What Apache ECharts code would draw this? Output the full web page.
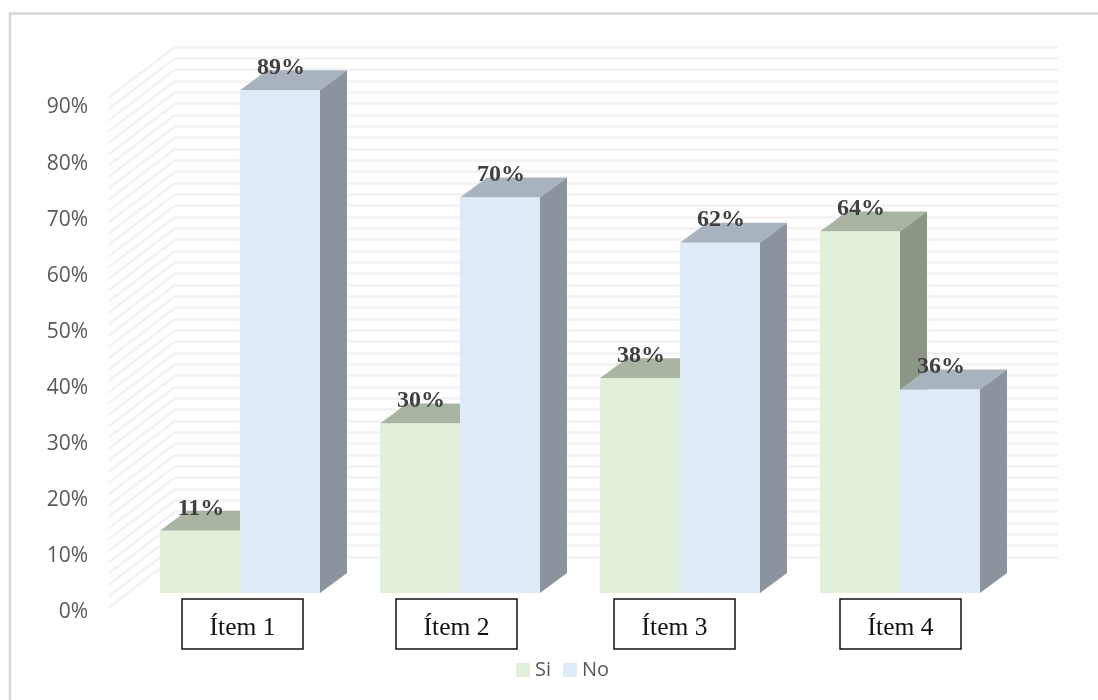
<!DOCTYPE html>
<html>
<head>
<meta charset="utf-8">
<style>
html,body{margin:0;padding:0;background:#fff;}
#main{width:1098px;height:700px;filter:blur(0.45px);}
</style>
<script src="https://cdn.jsdelivr.net/npm/echarts@6/dist/echarts.min.js"></script>
</head>
<body>
<div id="main"></div>
<script>
const categories = ['Ítem 1', 'Ítem 2', 'Ítem 3', 'Ítem 4'];
const siValues = [11, 30, 38, 64];
const noValues = [89, 70, 62, 36];
const percentTicks = [0, 10, 20, 30, 40, 50, 60, 70, 80, 90];
const wallTicks = [0,2,4,6,8,10,12,14,16,18,20,22,24,26,28,30,32,34,36,38,40,42,44,46,48,50,52,54,56,58,60,62,64,66,68,70,72,74,76,78,80,82,84,86,88,90];

const DEPTH_X = 27, DEPTH_Y = 20;
const SIDE_WALL_X = 67, SIDE_WALL_Y = 51;
const BOX_LEFTS = [182, 396, 614, 840];

function barRenderer(slot, front, top, side) {
  return function (params, api) {
    const base = api.coord([api.value(0), 0]);
    const head = api.coord([api.value(0), api.value(1)]);
    const band = api.size([1, 0])[0];
    const w = band * 80 / 220;
    const x0 = base[0] + slot * w;
    const x1 = x0 + w;
    const yT = head[1], yB = base[1];
    return {
      type: 'group',
      children: [
        { type: 'polygon', shape: { points: [[x0, yT], [x0 + DEPTH_X, yT - DEPTH_Y], [x1 + DEPTH_X, yT - DEPTH_Y], [x1, yT]] }, style: { fill: top } },
        { type: 'polygon', shape: { points: [[x1, yT], [x1 + DEPTH_X, yT - DEPTH_Y], [x1 + DEPTH_X, yB - DEPTH_Y], [x1, yB]] }, style: { fill: side } },
        { type: 'rect', shape: { x: x0, y: yT, width: w, height: yB - yT }, style: { fill: front } },
        { type: 'text', z2: 10, style: { x: (x0 + x1) / 2 + 1, y: yT - 22.5, text: api.value(1) + '%', align: 'center', verticalAlign: 'middle', fill: '#404040', font: 'bold 24px "Liberation Serif"' } }
      ]
    };
  };
}

function sideWall(params, api) {
  const p = api.coord([0, api.value(0)]);
  return {
    type: 'line',
    shape: { x1: p[0], y1: p[1], x2: p[0] - SIDE_WALL_X, y2: p[1] + SIDE_WALL_Y },
    style: { stroke: '#f2f2f2', lineWidth: 2.5 }
  };
}

const option = {
  animation: false,
  backgroundColor: '#fff',
  grid: [
    { left: 130, right: 88, top: 84.5, bottom: 107 },
    { left: 108, right: 40, top: 107.5, bottom: 87.5 },
    { left: 175, right: 40, top: 47, bottom: 143 }
  ],
  xAxis: [
    { type: 'category', gridIndex: 0, data: categories, show: false },
    { type: 'value', gridIndex: 1, min: 0, max: 1, show: false },
    { type: 'value', gridIndex: 2, min: 0, max: 1, show: false }
  ],
  yAxis: [
    { type: 'value', gridIndex: 0, min: 0, max: 90, show: false },
    {
      type: 'value', gridIndex: 1, min: 0, max: 90, interval: 10,
      axisLine: { show: false }, axisTick: { show: false }, splitLine: { show: false },
      axisLabel: { margin: 20, formatter: '{value}%', color: '#595959', fontSize: 21, fontFamily: '"Open Sans"' }
    },
    {
      type: 'value', gridIndex: 2, min: 0, max: 90, interval: 2,
      axisLine: { show: false }, axisTick: { show: false }, axisLabel: { show: false },
      splitLine: { show: true, lineStyle: { color: '#f2f2f2', width: 2.5 } }
    }
  ],
  legend: {
    left: 516, top: 660, padding: 0, itemWidth: 14, itemHeight: 14, itemGap: 12,
    icon: 'rect',
    textStyle: { color: '#595959', fontSize: 20, fontFamily: '"Open Sans"' },
    data: ['Si', 'No']
  },
  graphic: [
    { type: 'polyline', x: 0, y: 0, shape: { points: [[10, 700], [10, 13.5], [1098, 13.5]] }, style: { fill: 'none', stroke: '#d6d6d6', lineWidth: 2.5 }, silent: true }
  ].concat(categories.map((c, i) => ({
    type: 'group', x: BOX_LEFTS[i], y: 599,
    children: [
      { type: 'rect', shape: { x: 0, y: 0, width: 121, height: 50 }, style: { fill: '#fff', stroke: '#111', lineWidth: 1.5 } },
      { type: 'text', x: 60.5, y: 29, style: { text: c, align: 'center', verticalAlign: 'middle', fill: '#111', font: '25.5px "Liberation Serif"' } }
    ]
  }))),
  series: [
    {
      type: 'custom', name: 'wall', xAxisIndex: 2, yAxisIndex: 2, z: 1,
      coordinateSystem: 'cartesian2d', silent: true,
      data: wallTicks.map(v => [v]), encode: { y: 0 }, renderItem: sideWall
    },
    {
      type: 'custom', name: 'Si', xAxisIndex: 0, yAxisIndex: 0, z: 3,
      itemStyle: { color: '#e2efd9' },
      data: siValues.map((v, i) => [i, v]), encode: { x: 0, y: 1 },
      renderItem: barRenderer(-1, '#e2efd9', '#a9b4a3', '#8b9686')
    },
    {
      type: 'custom', name: 'No', xAxisIndex: 0, yAxisIndex: 0, z: 4,
      itemStyle: { color: '#deeaf6' },
      data: noValues.map((v, i) => [i, v]), encode: { x: 0, y: 1 },
      renderItem: barRenderer(0, '#deeaf6', '#a8b3bd', '#8b949d')
    }
  ]
};
const chart = echarts.init(document.getElementById('main'), null, { renderer: 'canvas' });
chart.setOption(option);
</script>
</body>
</html>
